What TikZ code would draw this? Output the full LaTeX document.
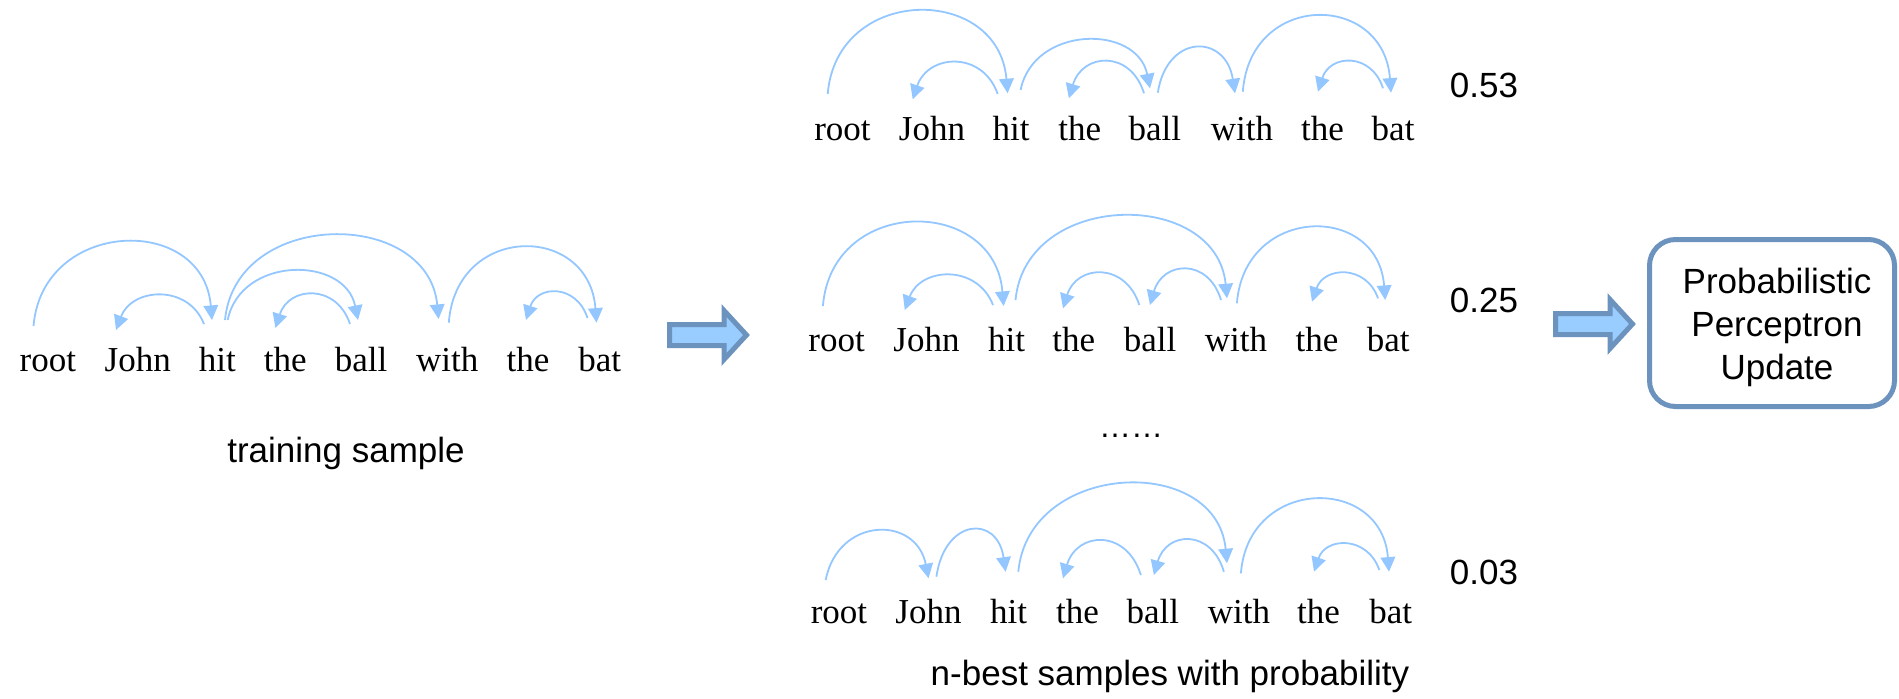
\documentclass[tikz,border=0pt]{standalone}
\usepackage{fontspec}
\setmainfont{Liberation Serif}
\newfontfamily\sansfont{Liberation Sans}
\usetikzlibrary{calc,arrows.meta}

\definecolor{arcblue}{RGB}{148,199,255}
\definecolor{arrowfill}{RGB}{153,204,255}
\definecolor{arrowedge}{RGB}{108,146,190}

\newcommand\wordfont{\fontsize{17.5pt}{21pt}\selectfont}
\newcommand\labelfont{\sansfont\fontsize{17.5pt}{21.3pt}\selectfont}

% dependency arc: start node, offset, end node, offset, height (px), inward lean
\newcommand\dep[6]{%
  \path ($(#1.base)+(#2)$) coordinate (dep-s) ($(#3.base)+(#4)$) coordinate (dep-e);
  \draw[deparc] (dep-s) .. controls ($(dep-s)!#6!(dep-e)+(0,{-(#5)*4/3})$)
    and ($(dep-e)!#6!(dep-s)+(0,{-(#5)*4/3})$) .. (dep-e);
}

% block arrow: name, tail x, centre y
\newcommand\blockarrow[3]{%
  \coordinate (#1) at (#2,#3);
  \draw[blockarr] ($(#1)+(0,-10.5)$) -- ++(54.5,0) -- ++(0,-14) -- ++(22.5,24.5)
    -- ++(-22.5,24.5) -- ++(0,-14) -- ++(-54.5,0) -- cycle;
}

\begin{document}
\begin{tikzpicture}[x=0.5pt,y=-0.5pt,
  word/.style={font=\wordfont, anchor=base, inner sep=0pt},
  label/.style={font=\labelfont, anchor=base, inner sep=0pt},
  deparc/.style={draw=arcblue, line width=0.9pt, -{Triangle[length=7.3pt,width=7.3pt]}},
  blockarr/.style={draw=arrowedge, fill=arrowfill, line width=2.5pt, line join=miter},
  updatebox/.style={draw=arrowedge, line width=2.5pt, rounded corners=13pt,
    minimum width=122.5pt, minimum height=83.5pt, inner sep=0pt}]
\useasboundingbox (0,0) rectangle (1899,698);

% ---- training sample ----
\foreach \w/\x [count=\i] in {root/47.9,John/137.7,hit/217.3,the/285.2,ball/361.1,with/447.2,the/528,bat/599.8}
  \node[word] (t\i) at (\x,371.7) {\w};
\dep{t1}{-14.4,-45.7}{t3}{-5.3,-51.7}{80.3}{0.05}
\dep{t3}{-13.3,-47.7}{t2}{-21.7,-41.7}{31}{0.18}
\dep{t3}{7.7,-51.7}{t6}{-8.6,-52.7}{83.5}{0.05}
\dep{t3}{10.4,-51.7}{t5}{-3.1,-51.7}{48.3}{0.1}
\dep{t5}{-11.1,-47.7}{t4}{-9.8,-43.7}{31}{0.18}
\dep{t6}{1.6,-49}{t8}{-3.3,-49}{74.7}{0.05}
\dep{t8}{-12.3,-53.7}{t7}{-2,-51.7}{26}{0.18}
\node[label] (trainlabel) at (346,462) {training sample};

% ---- best parse, 0.53 ----
\foreach \w/\x [count=\i] in {root/842.5,John/932,hit/1011,the/1079.7,ball/1154.9,with/1241.9,the/1322.5,bat/1393.1}
  \node[word] (a\i) at (\x,140) {\w};
\dep{a1}{-14.8,-46}{a3}{-3.4,-46.7}{82}{0.05}
\dep{a3}{-13.3,-46}{a2}{-19.3,-40.7}{33.4}{0.18}
\dep{a3}{9.6,-50}{a5}{-4.9,-51.7}{48.4}{0.1}
\dep{a5}{-10.9,-46.7}{a4}{-10.8,-41.7}{33.5}{0.18}
\dep{a5}{2.9,-47.3}{a6}{-6.9,-46.7}{44.7}{0.12}
\dep{a6}{0.9,-48.3}{a8}{-2.1,-47.3}{75.5}{0.05}
\dep{a8}{-10.1,-51.7}{a7}{-4.5,-48.3}{27.7}{0.18}
\node[label] (pa) at (1484,97.3) {0.53};

% ---- second parse, 0.25 ----
\foreach \w/\x [count=\i] in {root/836.6,John/926.5,hit/1006.6,the/1073.8,ball/1150,with/1235.9,the/1317,bat/1388.2}
  \node[word] (b\i) at (\x,351.7) {\w};
\dep{b1}{-13.7,-45.7}{b3}{-3,-45.7}{82.7}{0.05}
\dep{b3}{-13.6,-46.7}{b2}{-21.7,-41.7}{31.5}{0.18}
\dep{b3}{8.9,-51.7}{b6}{-8.9,-53.4}{82.5}{0.05}
\dep{b5}{-10.7,-46.7}{b4}{-10.8,-43.4}{32.7}{0.18}
\dep{b6}{-14.9,-51.7}{b5}{0,-46.7}{32.5}{0.18}
\dep{b6}{1,-48.4}{b8}{-3,-51.7}{73.4}{0.05}
\dep{b8}{-10.2,-53.4}{b7}{-5,-50}{26}{0.18}
\node[label] (pb) at (1484,312.5) {0.25};

\node[label, font=\sansfont\fontsize{16pt}{19pt}\selectfont] (dots) at (1131,437) {……};

% ---- last parse, 0.03 ----
\foreach \w/\x [count=\i] in {root/839,John/928.5,hit/1008.6,the/1077.4,ball/1152.9,with/1238.9,the/1318.6,bat/1390.7}
  \node[word] (c\i) at (\x,623.3) {\w};
\dep{c1}{-13.3,-43.3}{c2}{0,-45}{47.5}{0.12}
\dep{c2}{7.9,-46.6}{c3}{-3,-51.6}{43.5}{0.12}
\dep{c3}{9.7,-51.6}{c6}{-11.9,-60}{83}{0.05}
\dep{c5}{-12.1,-48.3}{c4}{-14.4,-45}{35}{0.18}
\dep{c6}{-15,-51.6}{c5}{1,-48.3}{32.6}{0.18}
\dep{c6}{2,-50}{c8}{-1.7,-51.6}{72.5}{0.05}
\dep{c8}{-11.4,-53.3}{c7}{-4.6,-51.6}{26}{0.18}
\node[label] (pc) at (1484,584) {0.03};
\node[label] (nbestlabel) at (1170,685) {n-best samples with probability};

% ---- block arrows and update box ----
\blockarrow{arrowA}{669.5}{335}
\blockarrow{arrowB}{1555.5}{324}
\node[updatebox] (update) at (1772,323) {};
\node[label, anchor=center, align=center] (updatelabel) at (1777,327.5)
  {Probabilistic\\Perceptron\\Update};
\end{tikzpicture}
\end{document}
